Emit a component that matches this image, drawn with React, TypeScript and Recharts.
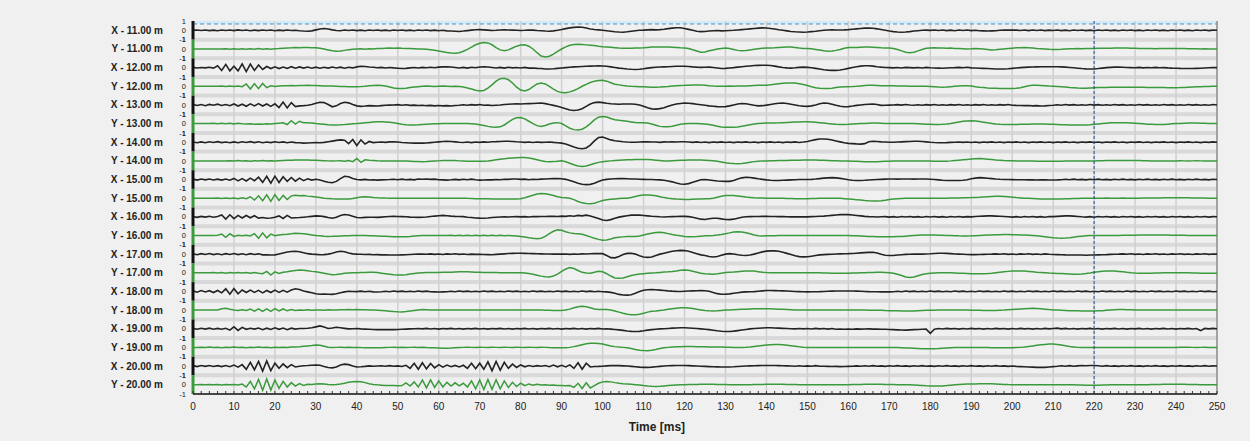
import { Line, LineChart, ReferenceArea, ReferenceLine, XAxis, YAxis } from "recharts";

// time axis, 1 ms sampling
const TIME_MS = [
  0, 1, 2, 3, 4, 5, 6, 7, 8, 9, 10, 11, 12, 13, 14, 15, 16, 17, 18, 19,
  20, 21, 22, 23, 24, 25, 26, 27, 28, 29, 30, 31, 32, 33, 34, 35, 36, 37, 38, 39,
  40, 41, 42, 43, 44, 45, 46, 47, 48, 49, 50, 51, 52, 53, 54, 55, 56, 57, 58, 59,
  60, 61, 62, 63, 64, 65, 66, 67, 68, 69, 70, 71, 72, 73, 74, 75, 76, 77, 78, 79,
  80, 81, 82, 83, 84, 85, 86, 87, 88, 89, 90, 91, 92, 93, 94, 95, 96, 97, 98, 99,
  100, 101, 102, 103, 104, 105, 106, 107, 108, 109, 110, 111, 112, 113, 114, 115, 116, 117, 118, 119,
  120, 121, 122, 123, 124, 125, 126, 127, 128, 129, 130, 131, 132, 133, 134, 135, 136, 137, 138, 139,
  140, 141, 142, 143, 144, 145, 146, 147, 148, 149, 150, 151, 152, 153, 154, 155, 156, 157, 158, 159,
  160, 161, 162, 163, 164, 165, 166, 167, 168, 169, 170, 171, 172, 173, 174, 175, 176, 177, 178, 179,
  180, 181, 182, 183, 184, 185, 186, 187, 188, 189, 190, 191, 192, 193, 194, 195, 196, 197, 198, 199,
  200, 201, 202, 203, 204, 205, 206, 207, 208, 209, 210, 211, 212, 213, 214, 215, 216, 217, 218, 219,
  220, 221, 222, 223, 224, 225, 226, 227, 228, 229, 230, 231, 232, 233, 234, 235, 236, 237, 238, 239,
  240, 241, 242, 243, 244, 245, 246, 247, 248, 249, 250,
];

const TRACE_NAMES = [
  "X -  11.00 m", "Y -  11.00 m", "X -  12.00 m", "Y -  12.00 m", "X -  13.00 m",
  "Y -  13.00 m", "X -  14.00 m", "Y -  14.00 m", "X -  15.00 m", "Y -  15.00 m",
  "X -  16.00 m", "Y -  16.00 m", "X -  17.00 m", "Y -  17.00 m", "X -  18.00 m",
  "Y -  18.00 m", "X -  19.00 m", "Y -  19.00 m", "X -  20.00 m", "Y -  20.00 m",
];

const X_TICK_LABELS = [0, 10, 20, 30, 40, 50, 60, 70, 80, 90, 100, 110, 120, 130, 140, 150, 160, 170, 180, 190, 200, 210, 220, 230, 240, 250];

// amplitudes in hundredths of a trace unit
const X11 = [
  0, 3, -2, 4, -3, 2, -4, 3, -2, 4,
  -3, 5, -2, 3, -4, 2, -3, 4, -2, 3,
  -4, 2, -3, 4, -2, 0, -5, -8, -10, -6,
  5, 15, 20, 14, 5, -2, -4, 3, -2, 4,
  -3, 2, -4, 3, -2, 4, -3, 2, -4, 3,
  -2, 4, -3, 2, -4, 3, -2, 4, -3, 2,
  -4, 0, -6, -8, -10, -12, -8, -3, 2, 6,
  8, 5, 2, -2, 0, 3, 5, 4, 2, 0,
  -2, 0, 3, 2, -2, -5, -8, -10, -6, 0,
  8, 18, 26, 32, 35, 33, 25, 15, 8, 5,
  0, -5, -10, -15, -18, -20, -16, -10, -5, 0,
  2, 5, 8, 5, 8, 12, 18, 24, 28, 27,
  20, 10, 0, -10, -14, -12, -8, -4, -2, -6,
  -4, -2, 0, 4, 8, 12, 16, 20, 24, 26,
  25, 20, 14, 6, 0, -6, -12, -16, -18, -20,
  -18, -14, -10, -5, 0, 3, 5, 4, 3, 5,
  8, 12, 16, 20, 24, 25, 22, 16, 8, 0,
  -8, -14, -18, -20, -18, -14, -8, -4, 0, 2,
  0, 3, -2, 4, -3, 2, -4, 3, -2, 4,
  -3, 0, -4, -6, -8, -6, -4, 0, 3, 2,
  4, 2, -2, 3, -3, 4, -2, 3, -3, 2,
  -2, 4, -3, 2, -4, 3, -2, 4, -3, 2,
  -4, 3, -2, 4, -3, 2, -4, 3, -2, 4,
  -3, 2, -4, 3, -2, 4, -3, 2, -4, 3,
  -2, 4, -3, 2, -4, 3, -2, 4, -3, 2,
  0,
];

const Y11 = [
  0, 0, 0, 0, 0, 0, 0, 0, 2, -2,
  3, -2, 2, -3, 3, -2, 4, -3, 2, -2,
  3, 5, 8, 10, 12, 15, 14, 16, 15, 12,
  14, 8, 0, -10, -20, -25, -22, -15, -8, -4,
  0, 2, -2, 3, 0, 4, 6, 8, 10, 9,
  11, 8, 6, 4, 2, 0, 0, -3, -8, -14,
  -22, -30, -38, -43, -45, -40, -25, -5, 20, 45,
  62, 70, 65, 45, 15, -10, -20, -10, 10, 30,
  42, 45, 30, 0, -40, -75, -85, -78, -55, -25,
  0, 22, 40, 48, 50, 48, 44, 40, 36, 30,
  25, 22, 18, 14, 10, 8, 8, 9, 10, 10,
  12, 16, 20, 21, 20, 20, 20, 18, 15, 12,
  10, 5, -8, -22, -35, -32, -20, -10, 0, 6,
  10, 6, -5, -15, -20, -16, -10, -4, 2, 8,
  10, 10, 12, 15, 18, 20, 20, 16, 10, 6,
  5, 2, -5, -12, -20, -25, -22, -15, -5, 8,
  15, 15, 16, 18, 20, 20, 18, 15, 12, 10,
  10, 6, -5, -20, -35, -40, -35, -20, -5, 8,
  10, 12, 10, 10, 8, 10, 6, 4, 2, 0,
  2, 5, 3, 0, -5, -10, -8, -4, 0, 4,
  8, 12, 14, 15, 14, 10, 6, 3, 0, -3,
  -5, -5, -3, 0, 2, 3, 4, 3, 5, 6,
  6, 7, 8, 8, 9, 10, 10, 10, 10, 9,
  8, 6, 5, 4, 4, 3, 4, 4, 5, 5,
  5, 5, 4, 3, 2, 2, 1, 2, 1, 0,
  0,
];

const X12 = [
  3, -4, 2, -3, 4, -5, 20, -30, 35, -35,
  15, -35, 40, -42, 38, -30, 28, -20, 12, -10,
  8, -10, 6, -8, 10, -6, 8, -5, 6, -7,
  5, -6, 4, -5, 6, -4, 5, -6, 4, -3,
  8, 15, 12, 6, 4, -2, 3, -4, 2, -3,
  -6, -10, -8, -3, 2, -4, 3, -2, 4, -2,
  5, 8, 10, 6, 2, -4, 3, -5, 4, -2,
  6, 10, 6, 2, -4, 3, -5, 4, -3, 2,
  -4, 3, -5, -4, -8, -10, -14, -15, -12, -8,
  -4, 0, 4, 8, 10, 12, 14, 16, 18, 20,
  18, 14, 8, 2, -5, -10, -15, -18, -20, -18,
  -12, -5, 0, 4, 6, 8, 10, 12, 14, 15,
  15, 12, 8, 5, 3, 4, 5, 2, -4, -10,
  -8, -4, 0, 5, 10, 14, 18, 22, 24, 25,
  25, 22, 16, 8, 2, -3, -5, -2, 3, 5,
  3, -2, -8, -15, -22, -27, -30, -30, -26, -18,
  -8, 2, 10, 16, 20, 20, 16, 10, 5, 2,
  0, -3, 2, -4, 3, 0, -3, 2, -4, 3,
  -2, -4, -5, -6, -4, -2, 0, 3, -2, 4,
  -3, -4, -6, -8, -10, -12, -14, -15, -15, -12,
  -8, -4, 0, 3, 5, 6, 8, 9, 10, 10,
  10, 10, 8, 5, 2, -2, -6, -10, -13, -15,
  -14, -10, -5, 0, 3, 5, 5, 4, 2, 0,
  -2, 3, -3, 2, -2, 3, -2, 0, -3, -5,
  -6, -8, -9, -10, -10, -8, -6, -4, -2, 0,
  0,
];

const Y12 = [
  0, 0, 0, 0, 0, 0, 0, 2, -2, 3,
  -3, 2, -4, 25, -30, 28, -25, 30, -15, 5,
  -3, 4, 6, 5, 8, 6, 9, 7, 10, 8,
  8, 6, 4, 3, 2, 0, -2, -3, -4, -5,
  -5, -3, 0, 5, 8, 10, 8, 2, -8, -18,
  -24, -25, -20, -14, -8, -4, 0, 2, 0, -2,
  0, 2, 0, -2, 0, -3, -8, -18, -30, -42,
  -50, -45, -20, 15, 55, 82, 85, 70, 35, -10,
  -40, -50, -35, -5, 25, 35, 25, 0, -30, -55,
  -68, -70, -60, -45, -25, 0, 20, 40, 55, 63,
  65, 55, 38, 22, 15, 8, 3, 0, -2, -4,
  -6, -8, -10, -10, -8, -5, -2, 2, 6, 9,
  10, 12, 14, 15, 15, 12, 6, 2, 0, 0,
  0, 2, 0, 3, 2, 4, 6, 8, 10, 10,
  12, 16, 22, 28, 32, 34, 35, 34, 28, 18,
  8, -5, -15, -22, -25, -24, -20, -14, -9, -6,
  -5, -3, 0, 4, 8, 10, 10, 8, 6, 5,
  5, 5, 4, 3, 2, 1, 0, 0, 0, 0,
  -2, -5, -8, -10, -8, -4, 0, 3, 5, 5,
  2, -5, -10, -14, -18, -20, -22, -24, -25, -25,
  -25, -22, -15, -5, 5, 10, 10, 8, 5, 2,
  0, -2, -5, -8, -12, -15, -18, -20, -20, -18,
  -16, -14, -12, -12, -11, -10, -10, -10, -10, -10,
  -10, -10, -11, -12, -12, -13, -14, -14, -15, -15,
  -15, -14, -12, -10, -8, -6, -4, -3, -2, -1,
  0,
];

const X13 = [
  4, -6, 5, -8, 6, -4, 8, -6, 5, -8,
  10, -12, 8, -14, 12, -10, 14, -12, 10, -15,
  12, -28, 30, -32, 25, -18, -10, -8, -4, 5,
  18, 28, 25, 5, -20, -10, 15, 28, 22, 5,
  -10, -15, -12, -8, -10, -12, -8, -4, -2, 0,
  3, -4, 2, -5, -2, -6, -3, -8, -5, -10,
  -6, -10, -8, -12, -6, -3, 2, -4, 3, -2,
  4, -3, -2, -6, -3, 0, 4, 8, 10, 12,
  10, 12, 14, 16, 18, 20, 14, 5, -5, -15,
  -28, -42, -55, -60, -55, -40, -15, 10, 25, 30,
  25, 18, 12, 10, 8, 10, 10, 10, 8, 0,
  -15, -30, -42, -45, -40, -30, -15, 0, 10, 16,
  20, 18, 14, 8, 2, -4, -10, -14, -18, -20,
  -18, -10, 0, 10, 15, 12, 5, -4, -10, -8,
  -2, 5, 12, 18, 20, 16, 8, 0, -8, -13,
  -15, -10, 0, 12, 20, 18, 8, -4, -14, -20,
  -18, -12, -5, 0, 5, 8, 10, 5, -5, -4,
  -2, 0, 3, -2, 4, 0, -3, 2, -4, 3,
  -2, 4, -3, 2, -4, 3, -2, 4, -3, 2,
  -4, 3, -2, 4, -3, 2, -4, 3, -2, 4,
  -3, -5, -6, -8, -6, -10, -8, -12, -10, -6,
  -4, 2, -3, 4, -2, 3, -4, 2, -3, 4,
  -2, 3, -4, 2, -3, 4, -2, 3, -4, 2,
  -3, 4, -2, 3, -4, 2, -3, 4, -2, 3,
  -4, 2, -3, 4, -2, 3, -4, 2, -3, 4,
  0,
];

const Y13 = [
  0, 0, 0, 0, 0, 3, -3, 4, -2, 3,
  -4, 3, -2, -5, -3, -6, -4, -7, -3, -5,
  0, 4, 8, -10, 30, -5, 25, 10, 8, 5,
  0, -4, -8, -12, -14, -15, -13, -10, -6, -3,
  0, 4, 8, 12, 16, 19, 20, 18, 14, 8,
  2, -6, -12, -15, -14, -12, -9, -6, -4, -2,
  -1, 0, 0, 0, 0, 0, 0, 0, -2, -5,
  -12, -20, -30, -37, -40, -35, -15, 15, 45, 62,
  65, 50, 25, 0, -22, -30, -20, -5, 6, 10,
  0, -25, -50, -65, -70, -60, -35, 0, 40, 68,
  75, 70, 55, 42, 35, 30, 25, 18, 12, 10,
  10, 5, -5, -18, -30, -35, -35, -28, -18, -8,
  -2, 0, 0, 0, -2, -5, -10, -18, -28, -36,
  -40, -40, -40, -36, -28, -20, -12, -5, 0, 4,
  5, 6, 7, 8, 10, 12, 14, 16, 18, 20,
  20, 18, 15, 10, 5, 0, -4, -8, -10, -10,
  -8, -5, -2, 0, 2, 4, 5, 5, 4, 2,
  1, 0, 0, 0, 0, 0, 0, -2, -4, -6,
  -8, -10, -10, -8, -4, 2, 10, 18, 25, 28,
  30, 28, 22, 15, 8, 2, -4, -8, -10, -10,
  -10, -9, -8, -7, -6, -5, -5, -5, -5, -6,
  -8, -10, -12, -13, -14, -15, -15, -15, -14, -12,
  -8, -4, 0, 4, 8, 10, 10, 10, 8, 6,
  3, 0, -3, -6, -8, -10, -10, -9, -6, -3,
  0, 2, 4, 5, 5, 5, 4, 3, 2, 1,
  0,
];

const X14 = [
  3, -5, 4, -6, 5, -3, 6, -4, 3, -5,
  4, -6, 5, -3, 6, -4, 5, -6, 3, -4,
  5, -3, 4, -5, 2, -4, -6, -10, -8, -6,
  -4, -5, -2, 5, 12, 20, 25, 22, -15, 30,
  -35, 25, -20, 8, -4, 0, 3, -2, 4, 5,
  2, -3, -5, -8, -10, -10, -10, -8, -4, 0,
  4, 8, 10, 8, 4, 0, -3, 2, -4, 3,
  -2, 4, 0, 5, 6, 8, 10, 10, 8, 5,
  3, -2, 3, -3, 2, -2, 0, 2, -2, -5,
  -10, -20, -35, -52, -65, -70, -62, -30, 15, 50,
  55, 40, 25, 15, 10, 5, 2, 0, 0, 3,
  5, 4, 2, 3, -2, 4, 2, 5, 3, 5,
  5, 3, -2, 4, -3, 2, -4, 3, -2, 4,
  -3, 2, -4, 3, -2, 4, -3, 2, -4, 3,
  -2, 4, -3, 2, -4, 3, -2, 4, -3, 2,
  8, 18, 28, 34, 35, 32, 24, 14, 4, -6,
  -12, -15, -18, -20, -15, 5, 10, 8, 4, 2,
  0, 0, 2, 4, 6, 8, 10, 10, 8, 4,
  0, -3, -5, -5, -4, -2, 0, 2, -2, 3,
  -3, 2, -4, 3, -2, 4, -3, 2, -4, 3,
  -2, 4, -3, 2, -4, 3, -2, 4, -3, 2,
  -4, 3, -2, 4, -3, 2, -4, 3, -2, 4,
  -3, 2, -4, 3, -2, 4, -3, 2, -4, 3,
  -2, 4, -3, 2, -4, 3, -2, 4, -3, 2,
  -4, 3, -2, 4, -3, 2, -4, 3, -2, 4,
  0,
];

const Y14 = [
  0, 0, 0, 0, 0, 0, 0, 0, 0, 2,
  -2, 3, -2, 2, -3, 2, -2, 3, -2, 2,
  0, 2, 4, 6, 8, 10, 10, 10, 9, 8,
  6, 4, 2, 0, -2, 0, 2, -3, 4, -8,
  25, -15, 12, 8, 5, 2, 0, 0, 0, 0,
  0, 0, -2, -4, -6, -8, -10, -8, -5, -2,
  0, 3, 5, 5, 3, 0, -2, -4, -5, -5,
  -5, -5, -2, 5, 12, 18, 24, 28, 32, 34,
  35, 35, 30, 22, 12, 2, -6, -10, -8, -3,
  0, -10, -25, -42, -55, -60, -55, -42, -28, -16,
  -10, -5, 0, 4, 8, 10, 12, 13, 14, 15,
  15, 15, 12, 8, 4, 0, 0, 2, 4, 6,
  8, 9, 10, 10, 10, 8, 5, 2, -5, -12,
  -20, -26, -29, -30, -28, -22, -15, -8, -3, 0,
  0, 1, 2, 3, 4, 5, 6, 7, 8, 9,
  10, 10, 9, 8, 6, 4, 2, 1, 0, 0,
  -1, -3, -5, -7, -9, -10, -10, -9, -7, -5,
  -3, -2, -1, 0, 0, 0, 0, 0, 0, 0,
  -1, -3, -5, -5, -3, 0, 4, 8, 12, 16,
  20, 24, 25, 22, 18, 14, 10, 7, 4, 2,
  1, 0, 0, 0, -1, -2, -3, -4, -5, -5,
  -5, -4, -3, -2, -1, 0, 0, 0, 0, 0,
  0, 1, 2, 3, 4, 5, 5, 5, 5, 5,
  4, 3, 2, 1, 0, 0, 0, 0, 0, 0,
  0, 1, 0, -1, 0, 1, 0, -1, 0, 0,
  0,
];

const X15 = [
  4, -6, 5, -4, 6, -5, 4, -6, 5, -8,
  12, -14, 10, -16, 15, -12, 25, -30, 35, -38,
  36, -32, 30, -20, 22, -18, 15, -12, 8, -6,
  3, -5, -18, -30, -35, -20, 10, 35, 30, 12,
  0, -4, 2, -5, -3, -6, -4, -2, 0, 3,
  -2, 4, -3, 2, -4, 5, 3, 6, 2, 4,
  -2, -4, -6, -3, 2, -4, 3, -2, 4, -3,
  -6, -5, -3, -4, 0, -2, 3, 2, 5, 6,
  2, 4, -2, 3, 0, 4, 6, 8, 10, 10,
  8, 2, -10, -25, -40, -50, -55, -52, -40, -22,
  -5, 2, 5, 8, 10, 10, 8, 6, 5, 3,
  2, 0, 0, -2, -4, -8, -15, -25, -38, -48,
  -50, -44, -30, -15, -2, 0, -5, -10, -15, -18,
  -20, -20, -10, 5, 18, 25, 22, 15, 8, 2,
  -4, -8, -10, -10, -8, -6, -4, -2, 0, 0,
  0, 2, 5, 10, 15, 18, 20, 18, 12, 5,
  -2, -8, -10, -10, -8, -5, -2, 0, 2, 4,
  5, 5, 4, 5, 6, 5, 4, 6, 5, 5,
  3, 0, -4, -8, -10, -10, -10, -10, -8, -2,
  8, 15, 20, 18, 14, 10, 6, 3, 1, 0,
  -1, -2, -3, -2, -4, -3, -5, -4, -3, -5,
  -5, -4, -2, 3, -2, 4, -3, 2, -4, 3,
  -2, 4, -3, 2, -4, 3, -2, 4, -3, 2,
  -4, 3, -2, 4, -3, 2, -4, 3, -2, 4,
  -3, 2, -4, 3, -2, 4, -3, 2, -4, 3,
  0,
];

const Y15 = [
  0, 0, 0, 0, 0, 0, 3, -3, 2, -4,
  3, -5, 4, -6, 15, -20, 25, -28, 35, -35,
  38, -25, 30, -15, 25, 30, 25, 28, 22, 18,
  12, 6, 0, -3, -6, -8, -10, -10, -8, -4,
  5, 12, 15, 12, 8, 5, 3, 1, 0, 0,
  0, 0, 0, 0, 0, 0, 0, 0, 0, 0,
  0, 0, 0, 0, 0, 0, 0, -2, -3, -5,
  -5, -6, -7, -8, -8, -9, -10, -10, -10, -10,
  -5, 5, 18, 32, 44, 50, 48, 40, 28, 15,
  8, 4, 0, -15, -35, -50, -58, -60, -55, -40,
  -25, -16, -12, -8, -4, -1, 0, 8, 18, 28,
  33, 35, 32, 25, 15, 6, 0, -5, -10, -12,
  -14, -15, -12, -10, -8, -6, -5, 0, 10, 20,
  28, 30, 28, 24, 18, 12, 8, 4, 2, 1,
  0, 0, 0, -1, -2, -3, -4, -5, -5, -5,
  -5, -4, -3, -2, -1, 0, 0, 0, -2, -5,
  -8, -12, -16, -20, -25, -28, -30, -30, -28, -22,
  -15, -10, -6, -3, -1, 0, 0, 0, 0, 0,
  0, 0, 0, 0, 0, 1, 2, 3, 4, 5,
  6, 8, 10, 13, 16, 18, 20, 20, 18, 14,
  10, 6, 3, 0, -2, -4, -6, -8, -9, -10,
  -10, -9, -8, -6, -5, -4, -3, -2, -1, 0,
  0, 0, 0, 1, 0, -1, 0, 1, 0, 0,
  0, 0, 1, 2, 2, 3, 3, 4, 4, 5,
  5, 5, 4, 4, 3, 3, 2, 1, 0, 0,
  0,
];

const X16 = [
  4, -6, 5, -3, 6, -5, 4, 20, -25, 22,
  -20, 15, -12, 14, -10, 12, -14, -8, -15, -12,
  -5, 10, -18, 15, -12, -10, -8, -4, 0, 5,
  10, 8, 2, -8, -15, -5, 15, 25, 20, 5,
  -8, -10, -6, -4, -5, -6, -3, 0, 3, 5,
  4, 2, 0, -3, -4, -6, -5, -2, 3, 8,
  12, 15, 12, 8, 5, 4, 2, -4, -8, -12,
  -14, -15, -12, -8, -5, -2, 0, -2, 0, 2,
  0, 2, -2, 3, 2, 4, 3, 5, 6, 4,
  8, 5, 12, 6, 15, 10, 18, 8, -5, -18,
  -35, -40, -30, -15, -3, 5, 12, 18, 20, 18,
  14, 10, 6, 3, 0, -2, 0, 2, 4, 5,
  5, 2, -5, -15, -25, -28, -20, -15, -15, -22,
  -28, -30, -25, -15, -5, 0, 2, 3, 4, 5,
  5, 4, 3, 2, 2, 1, 0, 0, 0, 0,
  0, 2, 4, 6, 8, 12, 16, 20, 24, 25,
  24, 20, 15, 10, 5, 2, 0, -2, 0, 2,
  -3, 2, -4, 3, -2, 4, -3, 2, -4, 3,
  -2, 4, -3, 2, -4, 3, -2, 4, -3, 2,
  0, 3, 6, 8, 10, 10, 8, 6, 3, 0,
  -3, 2, -4, 3, -2, 4, -3, 2, -4, 3,
  2, 5, 8, 10, 10, 8, 4, 0, -3, 2,
  -4, 3, -2, 4, -3, 2, -4, 3, -2, 4,
  -3, 2, -4, 3, -2, 4, -3, 2, -4, 3,
  -2, 4, -3, 2, -4, 3, -2, 4, -3, 2,
  0,
];

const Y16 = [
  0, 0, 0, 0, 0, 0, 2, 15, -20, 18,
  -10, 3, -4, 3, -5, 20, -30, 28, -25, 15,
  -3, 5, 10, 12, 18, 25, 22, 18, 12, 6,
  0, -4, -8, -10, -9, -7, -5, -3, -2, -1,
  0, 0, -1, -2, -3, -5, -7, -9, -11, -13,
  -15, -15, -13, -10, -6, -3, 0, 0, 0, 0,
  0, 0, 0, 2, -2, 3, -2, 2, -3, 2,
  -2, 3, -2, 2, -3, 2, -2, 0, -3, -6,
  -10, -16, -24, -30, -35, -30, -10, 20, 45, 60,
  55, 40, 28, 20, 18, 12, 0, -15, -30, -42,
  -50, -48, -38, -25, -18, -15, -12, -10, -10, -5,
  5, 15, 25, 32, 35, 30, 20, 10, 2, -4,
  -10, -14, -15, -12, -8, -4, -2, 0, 4, 10,
  18, 28, 36, 40, 38, 30, 18, 6, -2, -5,
  -4, -3, -2, -1, 0, 0, 0, 0, 0, 0,
  0, 0, 0, 0, 0, 0, 0, 0, 0, 0,
  0, -2, -4, -6, -8, -10, -12, -14, -15, -15,
  -15, -14, -12, -10, -7, -4, -1, 2, 4, 5,
  5, 4, 3, 2, 1, 0, -2, -4, -5, -5,
  -4, -2, 0, 2, 4, 6, 8, 9, 10, 10,
  9, 8, 6, 4, 2, 0, -4, -8, -14, -20,
  -25, -28, -30, -28, -24, -18, -12, -8, -4, -1,
  0, 0, 0, 0, 0, 1, 1, 2, 2, 3,
  3, 4, 4, 5, 5, 5, 5, 4, 4, 3,
  3, 2, 2, 1, 1, 0, 0, 0, 0, 0,
  0,
];

const X17 = [
  4, -6, 5, -4, 6, -5, 4, -6, 5, -4,
  6, -5, 4, -6, 5, -4, 3, -8, -6, -10,
  -8, 2, 12, 22, 28, 30, 25, 15, 5, 0,
  -3, -6, -5, 0, 10, 22, 30, 25, 12, 3,
  0, -2, -4, -3, -6, -5, -8, -7, -10, -9,
  -10, -8, -6, -4, -2, 0, 2, -2, 3, -3,
  2, -4, 3, -2, 4, -3, 2, -4, 0, -3,
  -2, -4, -5, -6, -3, 0, 3, 6, 8, 10,
  9, 8, 6, 5, 4, 3, 2, 1, 0, 0,
  0, 2, -3, 2, -2, 3, 2, 4, 5, 6,
  5, -15, -38, -40, -25, -5, 8, 10, 0, -18,
  -30, -35, -30, -15, 0, 10, 20, 30, 36, 40,
  38, 30, 18, 5, -8, -15, -25, -30, -25, -12,
  0, 5, 2, -6, -12, -15, -10, 0, 12, 24,
  32, 35, 35, 30, 20, 8, -5, -18, -27, -30,
  -28, -22, -15, -8, -5, -3, -1, 1, 3, 4,
  5, 7, 10, 13, 16, 19, 20, 12, -2, -12,
  -15, -14, -10, -6, -3, -1, 0, 0, 0, 2,
  4, 7, 9, 10, 8, 5, 2, 0, -2, -4,
  -5, -5, -4, -3, -2, 0, 3, -2, 4, -3,
  2, -4, 3, -2, 4, -3, 2, -4, 3, -2,
  -4, -5, -6, -8, -9, -10, -10, -10, -12, -10,
  -10, -8, -6, -5, -3, -2, 0, 3, -2, 4,
  -3, 2, -4, 3, -2, 4, -3, 2, -4, 3,
  -2, 4, -3, 2, -4, 3, -2, 4, -3, 2,
  0,
];

const Y17 = [
  0, 0, 0, 0, 0, 3, -3, 2, -4, 3,
  -2, 4, -3, 2, -4, 3, -5, -10, 15, -25,
  10, -8, 5, 10, 18, 25, 30, 28, 22, 15,
  10, 4, -5, -14, -20, -18, -12, -6, -2, 0,
  0, 2, 3, 5, 5, 2, -4, -10, -16, -22,
  -25, -24, -20, -14, -8, -3, 0, 2, 3, 4,
  4, 5, 5, 6, 8, 10, 10, 10, 8, 6,
  5, 4, 3, 2, 2, 1, 1, 0, 0, 0,
  0, -2, -8, -16, -26, -36, -42, -45, -35, -15,
  15, 40, 55, 45, 25, 5, -3, -5, 5, 15,
  10, -10, -35, -55, -60, -55, -42, -30, -20, -14,
  -10, -6, -3, 0, 4, 8, 10, 14, 20, 27,
  30, 26, 16, 5, -5, -10, -12, -15, -10, -4,
  2, 5, 8, 12, 16, 19, 20, 18, 12, 6,
  3, 1, 0, 0, 0, 0, 0, 0, 0, 0,
  0, 0, 0, -1, -2, -3, -4, -5, -5, -5,
  -4, -3, -2, -1, 0, 2, 4, 5, 5, 3,
  0, -5, -15, -30, -45, -50, -45, -32, -18, -10,
  -5, -2, 0, 0, 0, 0, -2, -4, -6, -8,
  -10, -10, -10, -10, -8, -5, 0, 5, 10, 15,
  18, 20, 20, 18, 14, 10, 6, 3, 0, -3,
  -5, -7, -9, -11, -13, -15, -15, -13, -8, -2,
  5, 12, 17, 20, 20, 18, 14, 10, 5, 1,
  -2, -4, -5, -5, -4, -3, -2, -1, 0, 0,
  0, 0, 0, -1, -2, -3, -4, -5, -5, -5,
  -5,
];

const X18 = [
  6, -8, 10, -6, 8, -12, 10, -15, 28, -30,
  30, -25, 15, -12, 14, -10, 12, -15, 10, -12,
  14, -10, 12, -8, 15, 28, 20, 5, -5, -15,
  -25, -30, -28, -30, -32, -25, -15, -5, 2, 0,
  -2, 3, -4, 2, -5, -6, -4, 2, -3, 4,
  -2, 3, -4, 2, -3, 4, -2, 3, -4, -5,
  -6, -5, -4, 2, -3, 4, -2, 3, -4, 2,
  -3, 4, -2, 3, -4, 2, -3, 4, -2, 3,
  -4, 2, -3, 4, -2, 3, -4, 2, -3, 4,
  -2, 3, -4, 2, -3, 4, -2, 3, -4, 2,
  -3, -5, -10, -20, -32, -38, -40, -35, -20, -2,
  12, 18, 20, 18, 14, 10, 6, 3, 1, 0,
  2, 4, 6, 8, 10, 8, 2, -12, -24, -30,
  -30, -26, -20, -14, -8, -5, -4, -2, 2, 6,
  10, 10, 9, 8, 6, 4, 2, 0, -2, -4,
  -5, -4, -3, -2, 0, 2, 3, 4, 5, 5,
  5, 4, 3, 2, 0, -2, -3, -4, -5, -5,
  -5, -4, 2, -3, 4, -2, 3, -4, 2, -3,
  4, -2, 3, -4, 2, -3, 4, -2, 3, -4,
  2, -3, 4, -2, 3, -4, 2, -3, 4, -2,
  3, -4, 2, -3, 4, -2, 3, -4, 2, -3,
  4, -2, 3, -4, 2, -3, 4, -2, 3, -4,
  2, -3, 4, -2, 3, -4, 2, -3, 4, -2,
  3, -4, 2, -3, 4, -2, 3, -4, 2, -3,
  4, -2, 3, -4, 2, -3, 4, -2, 3, -4,
  0,
];

const Y18 = [
  0, 0, 0, 0, 0, 0, 0, 15, 20, 10,
  2, -4, 3, -5, 10, -12, 14, -15, 12, -14,
  15, -10, 12, -8, 6, -4, 2, -2, 3, -2,
  0, 2, -2, 3, 0, 2, 4, 3, 5, 4,
  5, 4, 3, 2, 0, -2, -5, -8, -12, -16,
  -19, -20, -16, -10, -4, 2, 5, 4, 2, 0,
  0, 0, 0, 0, 0, 0, 0, 0, 0, 0,
  0, 0, 0, 0, 0, 0, 0, 0, 0, 0,
  0, 0, 0, 0, 0, 0, -1, -2, -4, -5,
  -5, 0, 10, 25, 36, 40, 36, 25, 12, 5,
  5, 5, 0, -10, -22, -35, -45, -50, -50, -45,
  -35, -22, -12, -10, -5, 0, 8, 15, 20, 24,
  25, 22, 16, 8, 2, -4, -8, -10, -8, -4,
  0, 2, 4, 6, 8, 10, 12, 13, 14, 15,
  15, 14, 12, 10, 8, 6, 4, 2, 1, 0,
  0, 0, 0, 0, 0, 0, 0, 0, 0, 0,
  0, 0, 0, 0, 0, -1, -1, -2, -3, -5,
  -6, -7, -8, -9, -10, -10, -9, -7, -5, -3,
  -2, -1, 0, 0, 0, 0, 0, 0, 0, 0,
  -1, -2, -3, -4, -5, -5, -4, -2, 0, 3,
  6, 9, 12, 15, 18, 20, 18, 14, 10, 5,
  2, 0, -2, -4, -6, -7, -8, -9, -10, -10,
  -10, -8, -6, -3, 0, 3, 5, 5, 4, 3,
  2, 1, 0, 0, 0, 0, 0, 0, 0, 0,
  0, 0, 0, 0, 0, 0, 0, 0, 0, 0,
  0,
];

const X19 = [
  4, -6, 5, -4, 6, -5, 4, -6, 5, -15,
  20, -18, 15, -6, 5, -4, 8, -10, 6, -8,
  10, -6, 8, -10, 6, -4, 3, 2, 5, 10,
  20, 30, 18, 2, 8, 15, 10, 4, -2, 0,
  3, -2, -4, -6, -8, -10, -8, -10, -9, -10,
  -8, -6, -4, -2, 0, 3, -2, 4, -3, 2,
  -4, 3, -2, 4, -3, 2, -4, 3, -2, 4,
  -3, 2, -4, 3, -2, 4, -3, 2, -4, 3,
  -2, 4, -3, 2, -4, 3, -2, 4, -3, 2,
  -4, 3, -2, 4, -3, 2, -4, 3, -2, 4,
  -3, 0, -4, -8, -12, -18, -24, -28, -30, -28,
  -22, -15, -10, -5, -2, 0, 3, 6, 8, 10,
  10, 8, 5, 2, -2, -6, -10, -16, -22, -27,
  -30, -30, -26, -20, -14, -8, -2, 2, 5, 8,
  10, 10, 8, 6, 4, 2, 0, -2, 3, -2,
  2, -3, 4, -2, 3, -4, 2, -5, -4, -6,
  -3, -5, -2, -4, -3, -2, -4, -3, -5, -6,
  -8, -10, -12, -14, -15, -12, -10, -8, -6, -4,
  -50, -5, 2, -3, 4, -2, 3, -4, 2, -3,
  4, -2, 3, -4, 2, -3, 4, -2, 3, -4,
  2, -3, 4, -2, 3, -4, 2, -3, 4, -2,
  3, 6, -2, 4, -3, 2, -4, 3, -2, 4,
  -3, 2, -4, 3, -2, 4, -3, 2, -4, 3,
  -2, 4, -3, 2, -4, 3, -2, 4, -3, 2,
  -4, 3, -2, 4, -3, 2, -20, 3, -2, 4,
  0,
];

const Y19 = [
  0, 0, 2, -2, 3, -2, 2, -3, 2, -2,
  3, -2, 2, -3, 2, -2, 3, -2, 2, -3,
  2, 0, 2, 0, 3, 5, 8, 12, 16, 20,
  25, 22, 12, 2, -2, 0, 2, -2, 2, 0,
  0, -2, -3, -4, -5, -5, -4, -2, 0, 2,
  0, 2, -2, 0, 2, -2, 0, -2, -3, -5,
  -7, -9, -10, -8, -5, -2, 0, 2, 0, -2,
  2, 0, -2, 2, 0, -2, 2, 0, -2, 2,
  0, -2, 2, 0, -2, 2, 0, -2, -3, -4,
  -5, -3, 0, 8, 18, 28, 38, 44, 45, 42,
  35, 25, 15, 8, 3, 0, -5, -12, -22, -30,
  -34, -35, -30, -22, -12, -4, 0, 3, 6, 8,
  10, 10, 9, 8, 7, 6, 5, 5, 4, 3,
  2, 1, 0, 0, 0, 2, 5, 10, 15, 20,
  25, 28, 30, 30, 28, 24, 18, 12, 6, 2,
  0, 0, 0, 0, 0, 0, 0, 0, 0, 0,
  0, 0, 0, 0, 0, 0, 0, 0, 0, 0,
  0, -1, -2, -4, -6, -8, -10, -12, -14, -15,
  -15, -14, -12, -9, -6, -4, -2, -1, 0, 0,
  0, 0, 0, -1, -2, -3, -4, -5, -5, -5,
  -4, -2, 0, 4, 10, 16, 22, 28, 32, 35,
  35, 32, 26, 18, 10, 5, 0, -2, -2, -1,
  0, 0, 0, 0, 0, 0, 0, 0, 0, 0,
  0, 0, 0, 0, 0, 0, 0, 0, 0, 0,
  0, 1, 2, 1, 0, -1, 0, 1, 0, 0,
  0,
];

const X20 = [
  4, -6, 5, -4, 6, -5, 4, -6, 5, -8,
  10, -12, 15, -35, 40, -40, 50, -55, 55, -50,
  30, -25, 22, -18, 15, -10, -2, 3, 5, 8,
  10, 8, -5, -15, -20, -10, 10, 20, 15, 0,
  -10, -8, -4, 2, -3, 0, 3, -2, 4, -3,
  2, -5, 8, -25, 30, -35, 35, -30, 28, -20,
  15, -12, 10, -8, 6, -10, 8, -25, 30, -28,
  30, -35, 45, -50, 50, -45, 40, -25, 20, -15,
  12, -8, 6, -5, 4, -3, 6, -8, 10, -8,
  8, -10, 12, -25, 35, -35, 30, -10, -5, -4,
  -2, 2, 4, 5, 4, 2, 0, -4, -8, -12,
  -14, -15, -12, -8, -4, 0, 3, 4, 5, 5,
  5, 4, 2, 0, -2, -4, -6, -8, -9, -10,
  -10, -10, -8, -5, -2, 0, 2, 3, 4, 5,
  5, 5, 5, 4, 3, 2, 0, -2, 3, -2,
  2, -3, 4, -2, -3, -4, -5, -4, -6, -5,
  -4, -3, 2, -2, 3, -2, 4, -3, 2, -4,
  3, -2, 4, -3, 2, -4, 3, -2, 4, -3,
  2, -4, 3, -2, 4, -3, 2, -4, 3, -2,
  4, -3, 2, -4, 3, -2, 4, -3, 2, -4,
  0, -4, -6, -8, -10, -12, -14, -15, -14, -10,
  -6, -2, 3, -2, 4, -3, 2, 5, 3, 6,
  5, 3, -2, 4, -3, 2, -4, 3, -2, 4,
  -3, 2, -4, 3, -2, 4, -3, 2, -4, 3,
  -2, 4, -3, 2, -4, 3, -2, 4, -3, 2,
  0,
];

const Y20 = [
  0, 0, 2, -2, 3, -2, 2, -3, 2, -2,
  3, -4, 6, -25, 35, -45, 55, -60, 62, -58,
  50, -40, 35, -25, 22, -15, 12, -8, 5, 2,
  8, 10, 6, 2, 0, 3, 8, 15, 25, 32,
  35, 32, 22, 10, 2, -2, -5, -8, -10, -10,
  -12, -10, 20, -15, 30, -25, 50, -35, 52, -30,
  40, -25, 25, -15, 20, -12, 15, -25, 40, -45,
  50, -52, 55, -50, 52, -45, 40, -30, 25, -20,
  15, -10, 8, -6, 4, -3, 0, -5, -4, -8,
  -10, -12, -10, -30, 15, -40, 20, -35, -10, 15,
  30, 35, 30, 22, 15, 10, 8, 4, 0, -4,
  -10, -15, -18, -20, -18, -14, -10, -6, -3, 0,
  0, 1, 2, 3, 4, 5, 5, 4, 3, 2,
  1, 0, 0, 0, 0, 0, 0, 1, 2, 3,
  4, 5, 5, 5, 4, 3, 2, 1, 0, 0,
  0, 0, 0, 0, 0, 0, 0, 0, 0, 0,
  0, 1, 2, 3, 4, 5, 5, 5, 4, 3,
  2, 1, 0, 0, -1, -2, -3, -5, -8, -11,
  -13, -15, -15, -14, -10, -5, 0, 3, 5, 6,
  7, 8, 9, 10, 10, 9, 7, 5, 3, 1,
  0, 0, 0, 0, 0, 0, 0, 0, 0, 0,
  0, 0, 0, 0, -1, -2, -3, -4, -5, -5,
  -5, -5, -4, -3, -2, -1, 0, 0, 0, 0,
  0, 0, 0, 0, 1, 2, 3, 4, 5, 5,
  5, 5, 4, 3, 2, 1, 0, 0, 0, 0,
  0,
];

const TRACES = [X11, Y11, X12, Y12, X13, Y13, X14, Y14, X15, Y15, X16, Y16, X17, Y17, X18, Y18, X19, Y19, X20, Y20];

const BLACK = "#232323";
const GREEN = "#3a9a3c";
const FONT = "'Liberation Sans', Arial, sans-serif";

// each trace sits on its own band of 2 units, trace i centred at -2i
const chartData = TIME_MS.map((t, k) => {
  const row: Record<string, number> = { t };
  TRACES.forEach((vals, i) => {
    row[`s${i}`] = vals[k] / 100 - 2 * i;
  });
  return row;
});

const yTicks: number[] = [1];
TRACE_NAMES.forEach((_, i) => {
  yTicks.push(-2 * i, -2 * i - 1);
});
const boundaries = yTicks.filter((v) => v % 2 !== 0 && v !== 1 && v !== -39);
const minorTicks = Array.from({ length: 126 }, (_, i) => i * 2);

const YTick = ({ x, y, payload }: any) => {
  const v = payload.value as number;
  const common = { fontSize: 7.5, fill: "#222", fontFamily: FONT, textAnchor: "end" as const, dy: "0.35em" };
  if (v % 2 === 0) {
    const i = -v / 2;
    return (
      <g>
        <text x={x - 30} y={y} fontSize={10} fontWeight="bold" fill="#222" fontFamily={FONT} textAnchor="end" dy="0.35em">
          {TRACE_NAMES[i]}
        </text>
        <text x={x - 7} y={y} {...common}>0</text>
      </g>
    );
  }
  return (
    <g>
      {v !== 1 && <text x={x - 7} y={y} {...common}>-1</text>}
      {v !== -39 && <text x={x - 7} y={y} {...common}>1</text>}
    </g>
  );
};

const XTick = ({ x, y, payload }: any) => {
  const v = payload.value as number;
  return (
    <g>
      <line x1={x} x2={x} y1={y} y2={y - 3} stroke="#333" strokeWidth={1} />
      {X_TICK_LABELS.includes(v) && (
        <text x={x} y={y + 16} textAnchor="middle" fontSize={10} fill="#222" fontFamily={FONT}>
          {v}
        </text>
      )}
    </g>
  );
};

const TimeLabel = ({ viewBox }: any) => (
  <text x={viewBox.x + viewBox.width * 0.453} y={viewBox.y + 37} textAnchor="middle" fontSize={12} fontWeight="bold" fill="#222" fontFamily={FONT}>
    Time [ms]
  </text>
);

export default function App() {
  return (
    <div style={{ position: "absolute", left: 0, top: 0, width: 1250, height: 441, background: "#f0f0f0" }}>
      <LineChart width={1250} height={441} data={chartData} margin={{ top: 21, right: 33, bottom: 7, left: 0 }}>
        <XAxis
          dataKey="t"
          type="number"
          domain={[0, 250]}
          ticks={minorTicks}
          interval={0}
          tickSize={0}
          tickMargin={0}
          tickLine={false}
          tick={<XTick />}
          axisLine={{ stroke: "#111", strokeWidth: 1.5 }}
          height={40}
          label={<TimeLabel />}
        />
        <YAxis
          type="number"
          domain={[-39, 1]}
          ticks={yTicks}
          interval={0}
          width={193}
          tickSize={0}
          tickMargin={0}
          tickLine={false}
          axisLine={false}
          tick={<YTick />}
        />
        <ReferenceArea y1={0.68} y2={1} fill="#d4eaf6" fillOpacity={1} stroke="none" />
        {boundaries.map((b) => (
          <ReferenceLine key={`b${b}`} y={b} stroke="#d9d9d9" strokeWidth={4} />
        ))}
        {X_TICK_LABELS.filter((v) => v > 0 && v < 250).map((v) => (
          <ReferenceLine key={`g${v}`} x={v} stroke="#d0d0d0" strokeWidth={1.5} />
        ))}
        <ReferenceLine y={0.68} stroke="#4a94c8" strokeDasharray="4 3" strokeWidth={1} />
        <ReferenceLine x={250} stroke="#8a8a8a" strokeWidth={1.5} />
        {TRACES.map((_, i) => (
          <Line
            key={`s${i}`}
            dataKey={`s${i}`}
            type="linear"
            stroke={i % 2 === 0 ? BLACK : GREEN}
            strokeWidth={i % 2 === 0 ? 1.6 : 1.5}
            dot={false}
            activeDot={false}
            isAnimationActive={false}
          />
        ))}
        <ReferenceLine x={220} stroke="#1f4f8f" strokeDasharray="3 2" strokeWidth={1} />
        {TRACES.map((_, i) => (
          <ReferenceLine
            key={`e${i}`}
            segment={[{ x: 0, y: 1 - 2 * i }, { x: 0, y: -1 - 2 * i }]}
            stroke={i % 2 === 0 ? "#111" : GREEN}
            strokeWidth={3}
          />
        ))}
      </LineChart>
    </div>
  );
}
